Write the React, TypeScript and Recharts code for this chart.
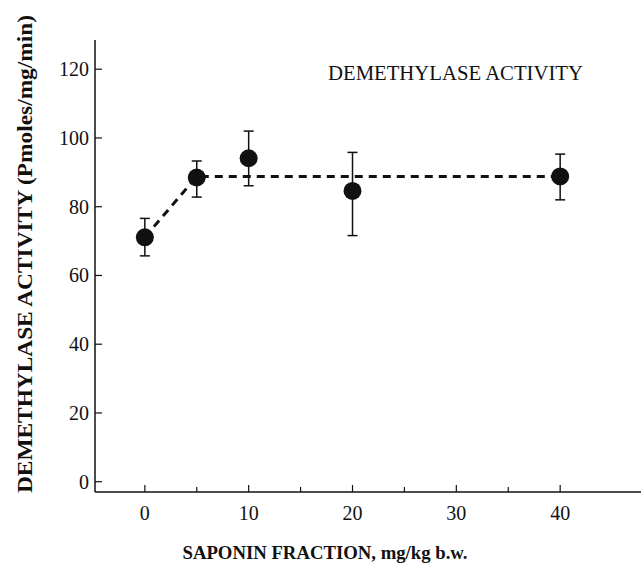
import React from "react";
import {
  ComposedChart,
  Scatter,
  Line,
  XAxis,
  YAxis,
  ErrorBar,
  Label,
} from "recharts";

// saponin dose (mg/kg b.w.) and measured activity
const doses = [0, 5, 10, 20, 40];
const activity = [71.1, 88.5, 94.1, 84.6, 88.8];
const errLow = [5.4, 5.7, 8.0, 13.0, 6.8];
const errHigh = [5.5, 4.8, 7.9, 11.2, 6.5];

// dashed fitted curve
const fitX = [0, 5, 40];
const fitY = [71.1, 88.8, 88.8];

const xTicks = [0, 5, 10, 15, 20, 25, 30, 35, 40];
const yTicks = [0, 20, 40, 60, 80, 100, 120];

const points = doses.map((d, i) => ({ x: d, y: activity[i], err: [errLow[i], errHigh[i]] }));
const fit = fitX.map((d, i) => ({ x: d, y: fitY[i] }));

const ink = "#111";
const serif = "'Liberation Serif', 'DejaVu Serif', serif";

const Dot = (props: any) => <circle cx={props.cx} cy={props.cy} r={9} fill={ink} />;

// ticks point into the plot, as in the scan
const XTick = ({ x, y, payload }: any) => {
  const major = payload.value % 10 === 0;
  return (
    <g>
      <line x1={x} x2={x} y1={y} y2={y - (major ? 7 : 5)} stroke={ink} strokeWidth={1.2} />
      {major && (
        <text x={x} y={y + 28} textAnchor="middle" fontSize={20} fontFamily={serif} fill={ink}>
          {payload.value}
        </text>
      )}
    </g>
  );
};

const YTick = ({ x, y, payload }: any) => (
  <g>
    <line x1={x} x2={x + 7} y1={y} y2={y} stroke={ink} strokeWidth={1.2} />
    <text x={x - 6} y={y + 7} textAnchor="end" fontSize={20} fontFamily={serif} fill={ink}>
      {payload.value}
    </text>
  </g>
);

export default function App() {
  return (
    <div style={{ position: "absolute", left: 0, top: 0, width: 641, height: 566, overflow: "hidden", background: "#fff" }}>
      <ComposedChart
        width={680}
        height={566}
        margin={{ top: 40, right: 16, bottom: 34, left: 35 }}
      >
        <XAxis
          dataKey="x"
          type="number"
          domain={[-4.8, 50]}
          ticks={xTicks}
          allowDataOverflow
          interval={0}
          height={40}
          tickSize={0}
          tickMargin={0}
          axisLine={{ stroke: ink, strokeWidth: 1.5 }}
          tickLine={false}
          tick={<XTick />}
        >
          <Label
            content={() => (
              <text
                x={325}
                y={559}
                textAnchor="middle"
                textLength={285}
                lengthAdjust="spacingAndGlyphs"
                fontFamily={serif}
                fontWeight="bold"
                fontSize={18}
                fill={ink}
              >
                SAPONIN FRACTION, mg/kg b.w.
              </text>
            )}
          />
        </XAxis>
        <XAxis
          xAxisId="top"
          orientation="top"
          type="number"
          domain={[-4.8, 50]}
          height={0}
          tick={false}
          tickLine={false}
          axisLine={{ stroke: ink, strokeWidth: 1.5 }}
        />
        <YAxis
          type="number"
          domain={[-3, 128.5]}
          ticks={yTicks}
          allowDataOverflow
          interval={0}
          width={60}
          tickSize={0}
          tickMargin={0}
          axisLine={{ stroke: ink, strokeWidth: 1.5 }}
          tickLine={false}
          tick={<YTick />}
        >
          <Label
            content={() => (
              <text
                x={25}
                y={254}
                transform="rotate(-90 25 254)"
                textAnchor="middle"
                dominantBaseline="central"
                textLength={478}
                lengthAdjust="spacingAndGlyphs"
                fontFamily={serif}
                fontWeight="bold"
                fontSize={21}
                fill={ink}
              >
                DEMETHYLASE ACTIVITY (Pmoles/mg/min)
              </text>
            )}
          />
          <Label
            content={() => (
              <text
                x={328}
                y={80}
                textLength={255}
                lengthAdjust="spacingAndGlyphs"
                fontFamily={serif}
                fontSize={20}
                fill={ink}
              >
                DEMETHYLASE ACTIVITY
              </text>
            )}
          />
        </YAxis>
        <Line
          data={fit}
          dataKey="y"
          stroke={ink}
          strokeWidth={3}
          strokeDasharray="8 6"
          dot={false}
          activeDot={false}
          isAnimationActive={false}
        />
        <Scatter data={points} dataKey="y" shape={Dot} isAnimationActive={false}>
          <ErrorBar dataKey="err" direction="y" width={5} stroke={ink} strokeWidth={1.5} />
        </Scatter>
      </ComposedChart>
    </div>
  );
}
